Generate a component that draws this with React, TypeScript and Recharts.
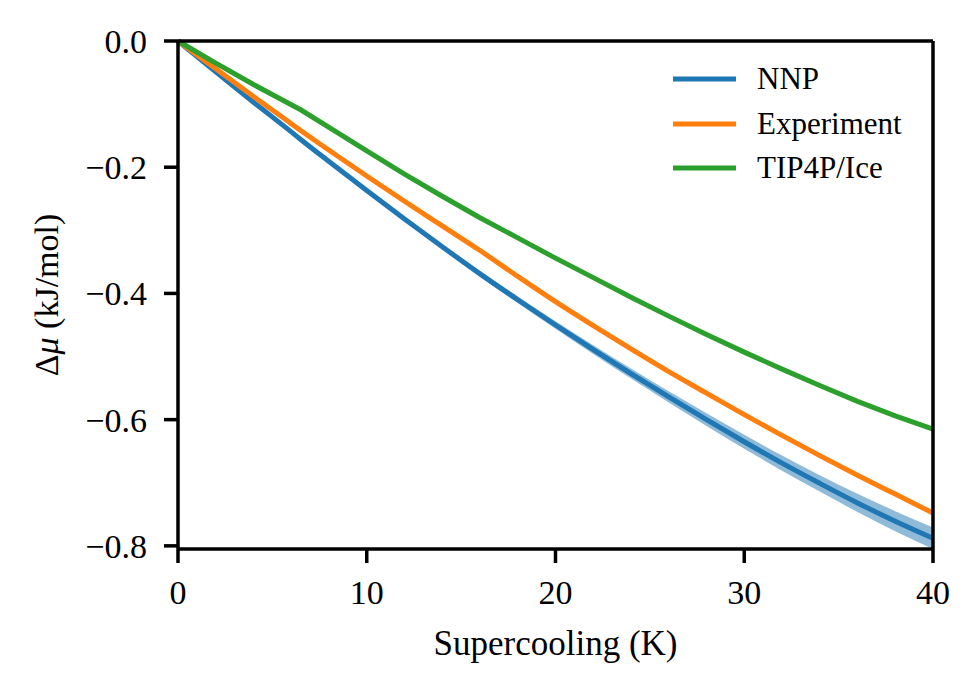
import { ComposedChart, Line, Area, XAxis, YAxis, Legend, Label, ReferenceLine } from 'recharts';

// supercooling (K) and Δμ (kJ/mol)
const supercooling = [0, 2, 4, 6, 6.5, 8, 10, 12, 14, 16, 18, 20, 22, 24, 26, 28, 30, 32, 34, 36, 38, 40];
const nnp = [0, -0.049, -0.097, -0.144, -0.156, -0.191, -0.237, -0.282, -0.326, -0.369, -0.41, -0.45, -0.489, -0.527, -0.564, -0.6, -0.635, -0.669, -0.701, -0.732, -0.761, -0.788];
const nnpErr = [0, 0.0005, 0.001, 0.0015, 0.0015, 0.002, 0.0025, 0.003, 0.0037, 0.0045, 0.0053, 0.006, 0.007, 0.008, 0.009, 0.01, 0.011, 0.012, 0.013, 0.0145, 0.016, 0.017];
const experiment = [0, -0.044, -0.088, -0.131, -0.142, -0.173, -0.214, -0.254, -0.293, -0.332, -0.373, -0.413, -0.451, -0.488, -0.524, -0.558, -0.592, -0.625, -0.657, -0.688, -0.718, -0.748];
const tip4pIce = [0, -0.035, -0.069, -0.101, -0.109, -0.137, -0.174, -0.211, -0.246, -0.28, -0.312, -0.344, -0.375, -0.406, -0.436, -0.465, -0.493, -0.52, -0.546, -0.571, -0.594, -0.615];

const xTicks = [0, 10, 20, 30, 40];
const yTicks = [-0.8, -0.6, -0.4, -0.2, 0];

const SERIES = [
  { key: 'nnp', name: 'NNP', color: '#1f77b4', curve: 'monotone' },
  { key: 'experiment', name: 'Experiment', color: '#ff7f0e', curve: 'monotone' },
  { key: 'tip4p', name: 'TIP4P/Ice', color: '#2ca02c', curve: 'linear' },
];

const FONT = '"Liberation Serif", "Times New Roman", serif';
const AXIS_W = 3.5;

const chartData = supercooling.map((k, i) => ({
  k,
  nnp: nnp[i],
  band: [nnp[i] - nnpErr[i], nnp[i] + nnpErr[i]],
  experiment: experiment[i],
  tip4p: tip4pIce[i],
}));

const fmtY = (v: number) => (v === 0 ? '0.0' : `\u2212${Math.abs(v).toFixed(1)}`);

function LegendBox() {
  return (
    <div style={{ fontFamily: FONT, fontSize: 31, color: '#000' }}>
      {SERIES.map((s) => (
        <div key={s.key} style={{ display: 'flex', alignItems: 'center', height: 44.5 }}>
          <svg width={63} height={10} style={{ marginRight: 21 }}>
            <line x1={0} y1={5} x2={63} y2={5} stroke={s.color} strokeWidth={5} />
          </svg>
          <span>{s.name}</span>
        </div>
      ))}
    </div>
  );
}

function YTitle({ viewBox }: any) {
  const x = viewBox.x + 46;
  const y = viewBox.y + viewBox.height / 2;
  return (
    <text
      x={x}
      y={y}
      transform={`rotate(-90 ${x} ${y})`}
      textAnchor="middle"
      dominantBaseline="central"
      style={{ fontFamily: FONT, fontSize: 34, fill: '#000' }}
    >
      Δ<tspan fontStyle="italic">μ</tspan> (kJ/mol)
    </text>
  );
}

export default function App() {
  return (
    <div style={{ position: 'absolute', left: 0, top: 0, width: 980, height: 693, background: '#fff' }}>
      <ComposedChart
        width={980}
        height={693}
        data={chartData}
        margin={{ top: 41, right: 47, bottom: 34, left: 0 }}
      >
        <XAxis
          dataKey="k"
          type="number"
          domain={[0, 40]}
          ticks={xTicks}
          height={110}
          tickSize={14}
          tickMargin={17}
          axisLine={{ stroke: '#000', strokeWidth: AXIS_W }}
          tickLine={{ stroke: '#000', strokeWidth: AXIS_W }}
          tick={{ fill: '#000', fontSize: 34, fontFamily: FONT }}
        >
          <Label
            value="Supercooling (K)"
            position="insideBottom"
            offset={4}
            style={{ fontFamily: FONT, fontSize: 35, fill: '#000' }}
          />
        </XAxis>
        <YAxis
          type="number"
          domain={[-0.8, 0]}
          ticks={yTicks}
          width={178}
          tickSize={14}
          tickMargin={17}
          tickFormatter={fmtY}
          axisLine={{ stroke: '#000', strokeWidth: AXIS_W }}
          tickLine={{ stroke: '#000', strokeWidth: AXIS_W }}
          tick={{ fill: '#000', fontSize: 34, fontFamily: FONT }}
        >
          <Label content={<YTitle />} />
        </YAxis>
        <Area
          dataKey="band"
          type="monotone"
          stroke="none"
          fill="#1f77b4"
          fillOpacity={0.5}
          isAnimationActive={false}
          legendType="none"
        />
        {SERIES.map((s) => (
          <Line
            key={s.key}
            dataKey={s.key}
            name={s.name}
            type={s.curve as any}
            stroke={s.color}
            strokeWidth={5}
            dot={false}
            activeDot={false}
            isAnimationActive={false}
          />
        ))}
        <ReferenceLine y={0} stroke="#000" strokeWidth={AXIS_W} />
        <ReferenceLine x={40} stroke="#000" strokeWidth={AXIS_W} />
        <Legend
          layout="vertical"
          align="center"
          verticalAlign="middle"
          content={<LegendBox />}
          wrapperStyle={{ position: 'absolute', left: 673, top: 57, width: 260, height: 'auto' }}
        />
      </ComposedChart>
    </div>
  );
}
